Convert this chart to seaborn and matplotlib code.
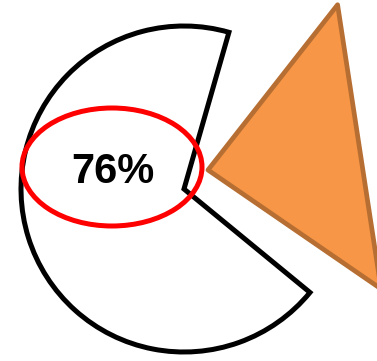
import numpy as np
import matplotlib
matplotlib.use('Agg')
from matplotlib import pyplot as plt
from matplotlib.patches import Ellipse
import seaborn as sns

sns.set_style('white')
plt.rcParams['font.family'] = ['Liberation Sans', 'DejaVu Sans']

# Data
labels = ['76%', '24%']
shares = [76, 24]
# share of the circle that the outlined slice covers as drawn in the picture
outline_share = [68.5, 31.5]

# Figure in pixel-like units (y up)
W, H = 377, 361
fig = plt.figure(figsize=(W / 100, H / 100), dpi=100)
ax = fig.add_axes([0, 0, 1, 1])

# Outlined (white) slice
white, _ = ax.pie(outline_share, radius=163, center=(184, 172), startangle=74,
                  counterclock=True, colors=['white', 'none'],
                  wedgeprops=dict(linewidth=3.6, joinstyle='miter'))
white[0].set_edgecolor('black')
white[1].set_edgecolor('none')

# Pulled-out slice (orange), drawn with straight outer edge
orange, _ = ax.pie([shares[1], shares[0]], radius=210, center=(208, 191),
                   startangle=-34.5, counterclock=True, colors=['none', 'none'],
                   wedgeprops=dict(linewidth=0))
w = orange[0]
cx, cy = w.center
t = np.deg2rad([w.theta1, w.theta2])
ax.fill([cx, cx + w.r * np.cos(t[0]), cx + w.r * np.cos(t[1])],
        [cy, cy + w.r * np.sin(t[0]), cy + w.r * np.sin(t[1])],
        facecolor='#F79646', edgecolor='#B76E32', linewidth=3.4, joinstyle='round')

# Label with red ring
ax.text(113, 178, labels[0], ha='center', va='baseline',
        fontsize=30, fontweight='bold', color='black', zorder=5)
ax.add_patch(Ellipse((112, 194), 180, 118, fill=False, edgecolor='#FF0000',
                     linewidth=3.6, zorder=6))

ax.set_xlim(0, W)
ax.set_ylim(0, H)
ax.set_aspect('equal')
ax.axis('off')

fig.savefig('out.png', dpi=100)
